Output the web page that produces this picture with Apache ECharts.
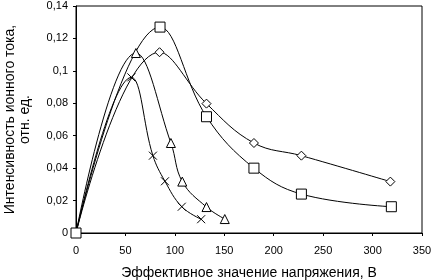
<!DOCTYPE html>
<html>
<head>
<meta charset="utf-8">
<script src="https://cdn.jsdelivr.net/npm/echarts@6/dist/echarts.min.js"></script>
<style>
  html, body { margin: 0; padding: 0; background: #fff; }
  #chart { width: 432px; height: 280px; }
</style>
</head>
<body>
<div id="chart"></div>
<script>
// значения
const squareX = [0, 85, 132, 180, 228, 319];
const squareY = [0, 0.127, 0.0717, 0.040, 0.024, 0.0162];
const diamondX = [0, 84.5, 132, 180, 228, 318];
const diamondY = [0, 0.1115, 0.0798, 0.0555, 0.0477, 0.0317];
const triangleX = [0, 60.6, 96, 107.5, 132, 150.5];
const triangleY = [0, 0.111, 0.0555, 0.0317, 0.016, 0.0086];
const crossX = [0, 56, 77.8, 90, 107, 126.6];
const crossY = [0, 0.096, 0.0477, 0.0319, 0.0162, 0.0085];

const yTicks = [0, 0.02, 0.04, 0.06, 0.08, 0.1, 0.12, 0.14];
const xTicks = [0, 50, 100, 150, 200, 250, 300, 350];

const font = 'Liberation Sans, Arial, sans-serif';
const crossPath = 'path://M0,0L10,10M10,0L0,10';

function pairs(xs, ys) {
  return xs.map((x, i) => [x, ys[i]]);
}

function mkSeries(xs, ys, symbol, size) {
  return {
    type: 'line',
    smooth: 0.4,
    data: pairs(xs, ys),
    symbol: symbol,
    symbolSize: size,
    showAllSymbol: true,
    lineStyle: { color: '#000', width: 1 },
    itemStyle: { color: '#fff', borderColor: '#000', borderWidth: 1 },
    z: 3
  };
}

const myChart = echarts.init(document.getElementById('chart'));
const option = {
  animation: false,
  grid: {
    left: 76, right: 10, top: 6, bottom: 47,
    containLabel: false, outerBoundsMode: 'none',
    show: true, borderColor: '#000', borderWidth: 1
  },
  xAxis: {
    type: 'value',
    min: xTicks[0],
    max: xTicks[xTicks.length - 1],
    interval: 50,
    name: 'Эффективное значение напряжения, В',
    nameLocation: 'middle',
    nameGap: 33,
    nameTextStyle: { fontFamily: font, fontSize: 14, color: '#000' },
    axisLine: { lineStyle: { color: '#000' } },
    axisTick: { show: true, length: 3, lineStyle: { color: '#000' } },
    axisLabel: { fontFamily: font, fontSize: 11, color: '#000', margin: 12 },
    splitLine: { show: false }
  },
  yAxis: {
    type: 'value',
    min: yTicks[0],
    max: yTicks[yTicks.length - 1],
    interval: 0.02,
    name: 'Интенсивность ионного тока,\nотн. ед.',
    nameLocation: 'middle',
    nameGap: 43,
    nameTextStyle: { fontFamily: font, fontSize: 14, color: '#000', lineHeight: 15 },
    axisLine: { lineStyle: { color: '#000' } },
    axisTick: { show: true, length: 3, lineStyle: { color: '#000' } },
    axisLabel: {
      fontFamily: font, fontSize: 11, color: '#000', margin: 8,
      formatter: v => String(+v.toFixed(2)).replace('.', ',')
    },
    splitLine: { show: false }
  },
  series: [
    mkSeries(crossX, crossY, crossPath, 8),
    mkSeries(triangleX, triangleY, 'triangle', 9),
    mkSeries(diamondX, diamondY, 'diamond', 9),
    mkSeries(squareX, squareY, 'rect', 10)
  ]
};
myChart.setOption(option, true);
</script>
</body>
</html>
